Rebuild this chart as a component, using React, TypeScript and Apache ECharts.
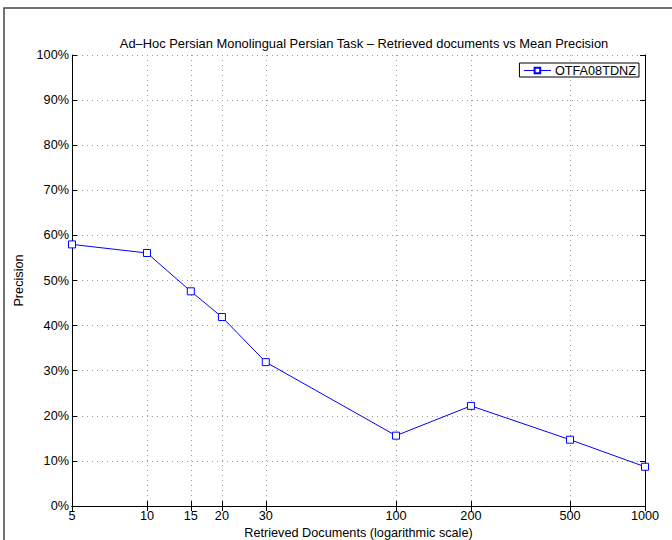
import React, { useEffect, useRef } from "react";
import * as echarts from "echarts";

const docs = [5, 10, 15, 20, 30, 100, 200, 500, 1000];
const precision = [0.58, 0.561, 0.476, 0.419, 0.319, 0.156, 0.222, 0.147, 0.087];
const xTicks = [5, 10, 15, 20, 30, 100, 200, 500, 1000];
const seriesName = "OTFA08TDNZ";
const titleText = "Ad\u2013Hoc Persian Monolingual Persian Task \u2013 Retrieved documents vs Mean Precision";

const FONT = "Liberation Sans, Arial, Helvetica, sans-serif";
const FS = 12.7;

export default function App() {
  const ref = useRef<HTMLDivElement>(null);
  useEffect(() => {
    if (!ref.current) return;
    const chart = echarts.init(ref.current, null, { renderer: "svg" });
    const lg = (v: number) => Math.log10(v);
    const tickLog = xTicks.map(lg);
    const gridLine = { show: true, lineStyle: { color: "#999", type: [1, 4] as any, width: 1 } };
    chart.setOption({
      animation: false,
      backgroundColor: "#fff",
      textStyle: { fontFamily: FONT },
      title: {
        text: titleText,
        left: 359,
        textAlign: "center",
        top: 32,
        textStyle: { fontSize: 12.9, fontWeight: "normal", color: "#000", fontFamily: FONT },
      },
      legend: {
        right: 33,
        top: 63,
        backgroundColor: "#fff",
        borderColor: "#000",
        borderWidth: 1,
        borderRadius: 0,
        padding: [1, 3, 0, 4],
        itemWidth: 27,
        itemHeight: 7,
        itemGap: 4,
        lineStyle: { width: 1 },
        textStyle: { fontSize: FS, color: "#000", fontFamily: FONT, padding: [0, 0, 0, -1] },
        data: [seriesName],
      },
      grid: { left: 72, right: 27, top: 55, bottom: 34, containLabel: false, outerBoundsMode: "none" },
      xAxis: [
        {
          type: "value",
          min: lg(5),
          max: lg(1000),
          name: "Retrieved Documents (logarithmic scale)",
          nameLocation: "middle",
          nameGap: 20,
          nameTextStyle: { fontSize: FS, color: "#000", fontFamily: FONT },
          axisLine: { lineStyle: { color: "#000", width: 1 } },
          axisTick: { inside: true, length: 5, customValues: tickLog, lineStyle: { color: "#000" } },
          axisLabel: {
            customValues: tickLog,
            fontSize: FS,
            color: "#000",
            margin: 3,
            fontFamily: FONT,
            formatter: (v: number) => String(Math.round(Math.pow(10, v))),
          },
          splitLine: gridLine,
        },
        {
          type: "value",
          position: "top",
          min: lg(5),
          max: lg(1000),
          axisLine: { show: true, lineStyle: { color: "#000", width: 1 } },
          axisTick: { show: true, inside: true, length: 5, customValues: tickLog, lineStyle: { color: "#000" } },
          axisLabel: { show: false, customValues: tickLog },
          splitLine: { show: false },
        },
      ],
      yAxis: [
        {
          type: "value",
          min: 0,
          max: 1,
          interval: 0.1,
          name: "Precision",
          nameLocation: "middle",
          nameGap: 43,
          nameTextStyle: { fontSize: FS, color: "#000", fontFamily: FONT },
          axisLine: { show: true, lineStyle: { color: "#000", width: 1 } },
          axisTick: { show: true, inside: true, length: 5, lineStyle: { color: "#000" } },
          axisLabel: {
            fontSize: FS,
            color: "#000",
            margin: 3,
            fontFamily: FONT,
            formatter: (v: number) => Math.round(v * 100) + "%",
          },
          splitLine: gridLine,
        },
        {
          type: "value",
          position: "right",
          min: 0,
          max: 1,
          interval: 0.1,
          axisLine: { show: true, lineStyle: { color: "#000", width: 1 } },
          axisTick: { show: true, inside: true, length: 5, lineStyle: { color: "#000" } },
          axisLabel: { show: false },
          splitLine: { show: false },
        },
      ],
      graphic: [
        {
          type: "polyline",
          shape: { points: [[4, 545], [4, 8], [680, 8]] },
          style: { stroke: "#444", lineWidth: 1.5, fill: null },
          silent: true,
        },
      ],
      series: [
        {
          name: seriesName,
          type: "line",
          xAxisIndex: 0,
          yAxisIndex: 0,
          data: docs.map((d, i) => [lg(d), precision[i]]),
          symbol: "rect",
          symbolSize: 7,
          showSymbol: true,
          lineStyle: { color: "#0000ff", width: 1 },
          itemStyle: { color: "#ffffff", borderColor: "#0000ff", borderWidth: 1 },
          emphasis: { disabled: true },
        },
      ],
    });
    return () => chart.dispose();
  }, []);
  return (
    <div
      ref={ref}
      style={{ position: "fixed", left: 0, top: 0, width: 672, height: 540 }}
    />
  );
}
